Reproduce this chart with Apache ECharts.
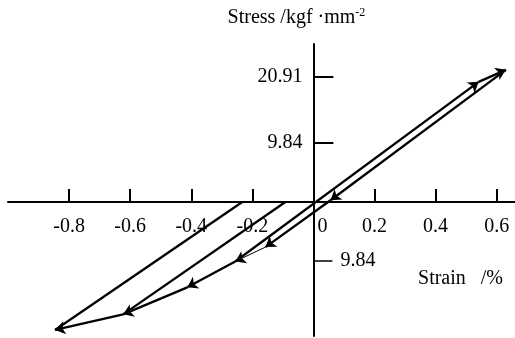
<!DOCTYPE html>
<html>
<head>
<meta charset="utf-8">
<script src="https://cdn.jsdelivr.net/npm/echarts@6/dist/echarts.min.js"></script>
<style>
  html, body { margin: 0; padding: 0; background: #fff; }
  #chart { width: 515px; height: 338px; }
</style>
</head>
<body>
<div id="chart"></div>
<script>
// axis ticks
const strainTicks = [-0.8, -0.6, -0.4, -0.2, 0.2, 0.4, 0.6];
const strainLabels = [-0.8, -0.6, -0.4, -0.2, 0, 0.2, 0.4, 0.6];
const stressTicks = [9.84, 20.91];
const stressNegTicks = [-9.84];

// loop path (strain %, stress kgf/mm2); arrowed paths get an arrow at the end of each segment
const loading = [[-0.256, -9.9], [0.541, 20.0], [0.63, 22.0]];
const unloading = [[0.63, 22.0], [0.056, 0.3], [-0.157, -7.5]];
const reversal = [[-0.157, -7.5], [-0.256, -9.9]];
const compression = [[-0.256, -9.9], [-0.413, -14.2], [-0.623, -18.7], [-0.846, -21.3]];
const reloadOuter = [[-0.846, -21.3], [-0.233, 0]];
const reloadInner = [[-0.623, -18.7], [-0.092, 0]];

const font = 'Liberation Serif';
const fs = 20;

const W = 515, H = 338;
const grid = { left: 8, right: 0, top: 44, bottom: 2 };
const xMin = -1.0, xMax = 0.66;
const yMin = -22.3, yMax = 26.3;
// axes cross at the origin: shift them there with offsets
const yAxisOffset = -(W - grid.left - grid.right) * (0 - xMin) / (xMax - xMin);
const xAxisOffset = -(H - grid.top - grid.bottom) * (0 - yMin) / (yMax - yMin);

function segments(path) {
  const out = [];
  for (let i = 1; i < path.length; i++) {
    out.push({ coords: [path[i - 1], path[i]] });
  }
  return out;
}

function arrowSeries(path, width) {
  return {
    type: 'lines',
    coordinateSystem: 'cartesian2d',
    data: segments(path),
    symbol: ['none', 'arrow'],
    symbolSize: [7, 10],
    lineStyle: { color: '#000', width: width, opacity: 1 },
    silent: true
  };
}

function plainSeries(path) {
  return {
    type: 'lines',
    coordinateSystem: 'cartesian2d',
    polyline: true,
    data: [{ coords: path }],
    symbol: 'none',
    lineStyle: { color: '#000', width: 2.3, opacity: 1 },
    silent: true
  };
}

const chart = echarts.init(document.getElementById('chart'));

chart.setOption({
  backgroundColor: '#fff',
  animation: false,
  grid: Object.assign({ outerBoundsMode: 'none', containLabel: false }, grid),
  xAxis: {
    type: 'value',
    min: xMin,
    max: xMax,
    position: 'bottom',
    offset: xAxisOffset,
    name: 'Strain   /%',
    nameLocation: 'end',
    nameGap: -12,
    nameTextStyle: {
      fontFamily: font, fontSize: fs, color: '#000',
      align: 'right', verticalAlign: 'top', padding: [67, 0, 0, 0]
    },
    axisLine: { onZero: false, lineStyle: { color: '#000', width: 2 } },
    axisTick: {
      show: true, inside: true, length: 13,
      customValues: strainTicks,
      lineStyle: { color: '#000', width: 2 }
    },
    axisLabel: {
      customValues: strainLabels,
      margin: 15,
      fontFamily: font, fontSize: fs, color: '#000',
      formatter: v => (v === 0 ? '{z|0}' : String(v)),
      rich: { z: { fontFamily: font, fontSize: fs, color: '#000', padding: [0, 0, 0, 18] } }
    },
    splitLine: { show: false }
  },
  yAxis: [
    {
      type: 'value',
      position: 'left',
      offset: yAxisOffset,
      min: yMin,
      max: yMax,
      name: '{a|Stress /kgf ·mm}{s|-2}',
      nameLocation: 'end',
      nameGap: 16,
      nameTextStyle: {
        align: 'center', verticalAlign: 'bottom', padding: [0, 34, 0, 0],
        rich: {
          a: { fontFamily: font, fontSize: fs, color: '#000' },
          s: { fontFamily: font, fontSize: 12, color: '#000', verticalAlign: 'top', padding: [0, 0, 9, 0] }
        }
      },
      axisLine: { onZero: false, lineStyle: { color: '#000', width: 2 } },
      axisTick: {
        show: true, inside: true, length: 20,
        customValues: stressTicks,
        lineStyle: { color: '#000', width: 2 }
      },
      axisLabel: {
        customValues: stressTicks,
        margin: 11,
        fontFamily: font, fontSize: fs, color: '#000',
        formatter: v => String(v)
      },
      splitLine: { show: false }
    },
    {
      type: 'value',
      position: 'left',
      offset: yAxisOffset,
      min: yMin,
      max: yMax,
      axisLine: { show: false, onZero: false },
      axisTick: {
        show: true, inside: true, length: 19,
        customValues: stressNegTicks,
        lineStyle: { color: '#000', width: 1.5 }
      },
      axisLabel: {
        inside: true,
        customValues: stressNegTicks,
        margin: 27,
        fontFamily: font, fontSize: fs, color: '#000',
        formatter: v => String(Math.abs(v))
      },
      splitLine: { show: false }
    }
  ],
  series: [
    arrowSeries(loading, 2.3),
    arrowSeries(unloading, 2.3),
    arrowSeries(reversal, 1),
    arrowSeries(compression, 2.3),
    plainSeries(reloadOuter),
    plainSeries(reloadInner)
  ]
});
</script>
</body>
</html>
